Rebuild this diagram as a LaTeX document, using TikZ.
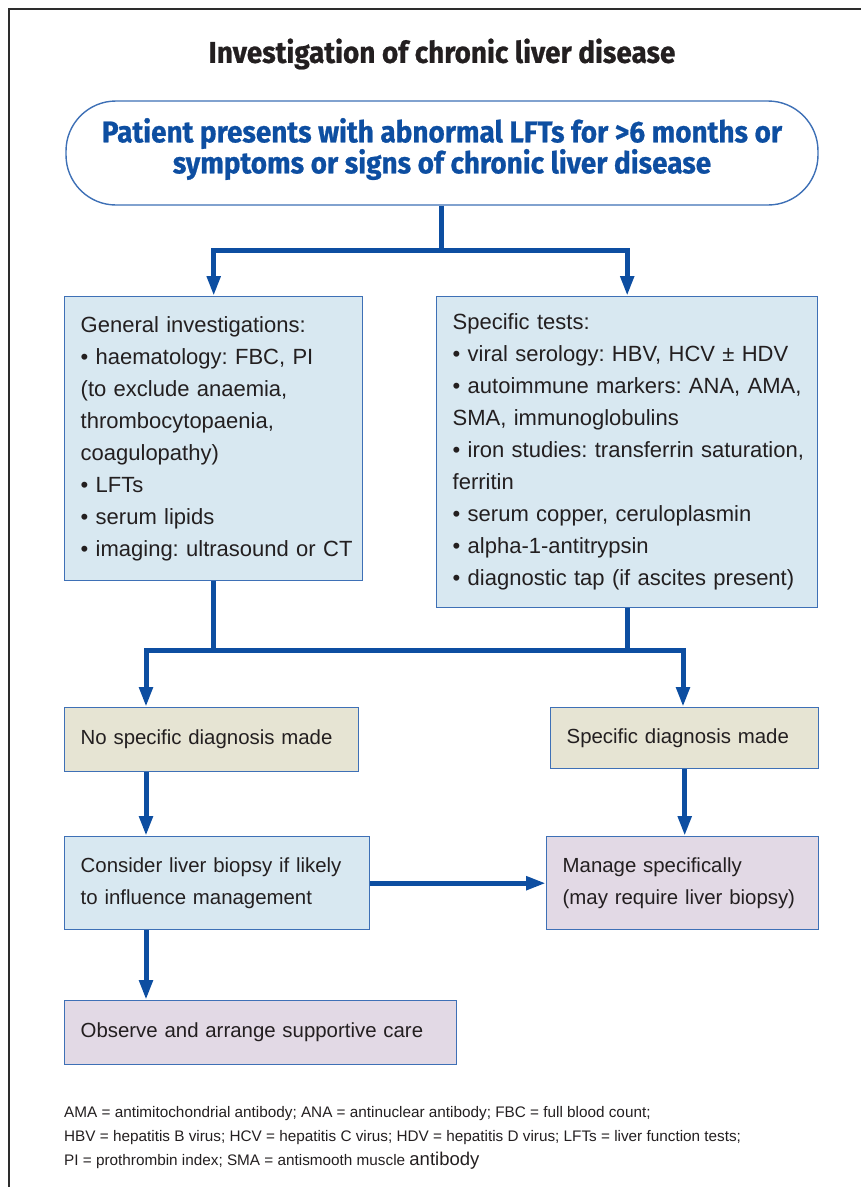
\documentclass[tikz,border=0pt]{standalone}
\usepackage{fontspec}
\setmainfont{Liberation Sans}
\newfontfamily\headfont[FakeStretch=0.93,BoldFeatures={FakeBold=0.8}]{Fira Sans}
\usepackage{tikz}
\usetikzlibrary{arrows.meta,positioning,calc}
\definecolor{flowblue}{RGB}{13,78,161}
\definecolor{boxline}{RGB}{62,112,182}
\definecolor{paleblue}{RGB}{216,232,241}
\definecolor{beige}{RGB}{230,228,211}
\definecolor{lilac}{RGB}{226,217,229}
\definecolor{inkgrey}{RGB}{35,31,32}
\definecolor{framegrey}{RGB}{45,45,45}
\newcommand{\bodyfont}{\frenchspacing\fontsize{22pt}{32pt}\selectfont}
\newcommand{\smallbodyfont}{\frenchspacing\fontsize{20.4pt}{32pt}\selectfont}
\newcommand{\notefont}{\frenchspacing\fontsize{15.3pt}{24pt}\selectfont}
\newcommand{\titlefont}{\headfont\bfseries\fontsize{30pt}{31pt}\selectfont}
\newcommand{\boxtext}[1]{\leftskip=11pt #1\endgraf}
\tikzstyle{Ibox}=[draw=boxline,line width=1.4pt,anchor=north west,align=left,inner xsep=5pt,inner ysep=0pt,text=inkgrey,font=\bodyfont]
\tikzstyle{flow}=[-{Triangle[length=20pt,width=13pt]},draw=flowblue,line width=5pt]
\tikzstyle{flowline}=[draw=flowblue,line width=5pt]

\begin{document}
\begin{tikzpicture}[x=1pt,y=-1pt]

\useasboundingbox (0,0) rectangle (861,1187);
\draw[framegrey,line width=2pt] (9,1187) -- (9,9) -- (861,9);

\node[text=inkgrey,font=\titlefont] (title) at (442,54) {Investigation of chronic liver disease};

\node[draw=boxline,line width=1.4pt,rounded corners=50pt,minimum width=752pt,minimum height=104pt] (patient) at (442,153) {};
\node[align=center,text=flowblue,font=\titlefont] (patienttext) at (442,149)
  {Patient presents with abnormal LFTs for >6 months or\\symptoms or signs of chronic liver disease};

\node[Ibox,fill=paleblue,text width=288pt,minimum height=284pt] (general) at (64,296)
  {\boxtext{General investigations:\\
   • haematology: FBC, PI\\
   (to exclude anaemia,\\
   thrombocytopaenia,\\
   coagulopathy)\\
   • LFTs\\
   • serum lipids\\
   • imaging: ultrasound or CT}};

\node[Ibox,fill=paleblue,text width=371pt,minimum height=311pt] (specific) at (436,296)
  {\boxtext{Specific tests:\\
   • viral serology: HBV, HCV ± HDV\\
   • autoimmune markers: ANA, AMA,\\
   SMA, immunoglobulins\\
   • iron studies: transferrin saturation,\\
   ferritin\\
   • serum copper, ceruloplasmin\\
   • alpha-1-antitrypsin\\
   • diagnostic tap (if ascites present)}};

\node[Ibox,fill=beige,font=\smallbodyfont,text width=284pt,minimum height=64pt] (nodiag) at (64,707) {\boxtext{No specific diagnosis made}};
\node[Ibox,fill=beige,font=\smallbodyfont,text width=258pt,minimum height=61pt] (diag) at (550,707) {\boxtext{Specific diagnosis made}};

\node[Ibox,fill=paleblue,font=\smallbodyfont,text width=295pt,minimum height=93pt] (biopsy) at (64,836)
  {\boxtext{Consider liver biopsy if likely\\to influence management}};
\node[Ibox,fill=lilac,font=\smallbodyfont,text width=262pt,minimum height=93pt] (manage) at (546,836)
  {\boxtext{Manage specifically\\(may require liver biopsy)}};

\node[Ibox,fill=lilac,font=\smallbodyfont,text width=382pt,minimum height=64pt] (observe) at (64,1000) {\boxtext{Observe and arrange supportive care}};

\node[anchor=base west,align=left,inner sep=0pt,text=inkgrey,font=\notefont] (abbrev) at (64,1165)
  {AMA = antimitochondrial antibody; ANA = antinuclear antibody; FBC = full blood count;\\
   HBV = hepatitis B virus; HCV = hepatitis C virus; HDV = hepatitis D virus; LFTs = liver function tests;\\
   PI = prothrombin index; SMA = antismooth muscle {\fontsize{18.5pt}{24pt}\selectfont antibody}};

\coordinate (split) at (441,250);
\coordinate (joinL) at (146,650);
\coordinate (joinR) at (683,650);

\draw[flowline] (patient.south -| split) -- (split);
\draw[flow] (split) -| (general.north);
\draw[flow] (split) -| (specific.north);

\draw[flow] (general.south) |- (joinL) -- (joinL |- nodiag.north);
\draw[flow] (specific.south) |- (joinR) -- (joinR |- diag.north);
\draw[flowline] (general.south |- joinL) -- (specific.south |- joinR);

\draw[flow] (joinL |- nodiag.south) -- (joinL |- biopsy.north);
\draw[flow] (diag.south) -- (diag.south |- manage.north);
\draw[flow] (biopsy.east) -- (manage.west);
\draw[flow] (joinL |- biopsy.south) -- (joinL |- observe.north);

\end{tikzpicture}
\end{document}
